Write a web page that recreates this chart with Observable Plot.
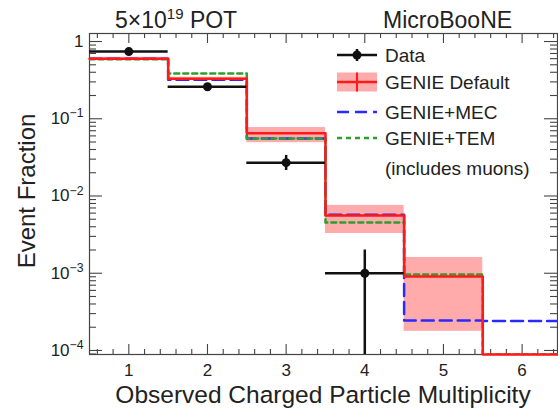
<!DOCTYPE html>
<html><head><meta charset="utf-8">
<script src="https://cdn.jsdelivr.net/npm/d3@7"></script>
<script src="https://cdn.jsdelivr.net/npm/@observablehq/plot@0.6"></script>
<style>body{margin:0;background:#fff}</style>
</head><body><div id="chart"></div>
<script>
// ---- data ----
const bins = [1, 2, 3, 4, 5, 6];
const dataBins = [1, 2, 3, 4];
const dataY = [0.74, 0.26, 0.027, 0.001];
const dataYLo = [0.71, 0.25, 0.0214, 0];
const dataYHi = [0.77, 0.27, 0.0335, 0.002];
const genieDefault = [0.60, 0.33, 0.065, 0.0056, 0.00091, 0];
const genieLo = [0.575, 0.315, 0.049, 0.00327, 0.000177, 0];
const genieHi = [0.625, 0.345, 0.077, 0.00755, 0.0016, 0];
const genieMEC = [0.60, 0.32, 0.0557, 0.0057, 0.000245, 0.00024];
const genieTEM = [0.59, 0.386, 0.0557, 0.00455, 0.00096, 0];
const xTicks = [1, 2, 3, 4, 5, 6];
const yTicks = [1, 0.1, 0.01, 0.001, 0.0001];
const yTickLabels = ["1", "10^-1", "10^-2", "10^-3", "10^-4"];
const legendLabels = ["Data", "GENIE Default", "GENIE+MEC", "GENIE+TEM", "(includes muons)"];

// ---- layout ----
const W = 558, H = 411;
const mL = 89, mR = 1, mT = 33, mB = 57;
const innerW = W - mL - mR, innerH = H - mT - mB;
const xMax = 6.45;
const yMin = 8.87e-5, yMax = 1.27;
const floorY = v => Math.max(v, yMin);
const font = "'Liberation Sans', Arial, Helvetica, sans-serif";
const axisColor = "#444";

function steps(vals) {
  const pts = bins.map((b, i) => ({x: b - 0.5, y: floorY(vals[i])}));
  pts.push({x: bins[bins.length - 1] + 0.5, y: floorY(vals[vals.length - 1])});
  return pts;
}
const band = bins.map((b, i) => ({x1: b - 0.5, x2: b + 0.5, lo: genieLo[i], hi: genieHi[i]})).filter(d => d.hi > 0);
const dataRows = dataBins.map((b, i) => ({x: b, y: dataY[i], lo: floorY(dataYLo[i]), hi: dataYHi[i]}));

const xMinor = d3.range(6, 65, 2).map(v => v / 10).filter(v => v % 1 !== 0);
const yMinor = [];
for (let e = -5; e <= 0; e++) for (let k = 2; k <= 9; k++) {
  const v = k * Math.pow(10, e);
  if (v > yMin && v < yMax) yMinor.push(v);
}

const tickStyle = {stroke: axisColor, strokeWidth: 1.1};
const chart = Plot.plot({
  width: W, height: H,
  marginLeft: mL, marginRight: mR, marginTop: mT, marginBottom: mB,
  style: {fontFamily: font, fontSize: "17px", color: "#222", background: "#fff"},
  x: {domain: [0.5, xMax]},
  y: {type: "log", domain: [yMin, yMax]},
  marks: [
    Plot.rect(band, {x1: "x1", x2: "x2", y1: "lo", y2: "hi", fill: "#ffabab", clip: true}),
    Plot.frame({stroke: axisColor, strokeWidth: 1.2}),
    // inward ticks (bottom/top)
    Plot.tickX(xTicks, {x: d => d, insetTop: innerH - 10, ...tickStyle}),
    Plot.tickX(xMinor, {x: d => d, insetTop: innerH - 5, ...tickStyle}),
    Plot.tickX(xTicks, {x: d => d, insetBottom: innerH - 10, ...tickStyle}),
    Plot.tickX(xMinor, {x: d => d, insetBottom: innerH - 5, ...tickStyle}),
    // inward ticks (left/right)
    Plot.tickY(yTicks, {y: d => d, insetRight: innerW - 13, ...tickStyle}),
    Plot.tickY(yMinor, {y: d => d, insetRight: innerW - 7, ...tickStyle}),
    Plot.tickY(yTicks, {y: d => d, insetLeft: innerW - 13, ...tickStyle}),
    Plot.tickY(yMinor, {y: d => d, insetLeft: innerW - 7, ...tickStyle}),
    Plot.line(steps(genieMEC), {x: "x", y: "y", curve: "step-after", stroke: "#2a2aff", strokeWidth: 2.5, strokeDasharray: "12,6", clip: true}),
    Plot.line(steps(genieTEM), {x: "x", y: "y", curve: "step-after", stroke: "#2ca02c", strokeWidth: 2.5, strokeDasharray: "5,4", clip: true}),
    Plot.line(steps(genieDefault), {x: "x", y: "y", curve: "step-after", stroke: "#ff1a1a", strokeWidth: 2.5}),
    Plot.ruleY(dataRows, {y: "y", x1: d => d.x - 0.5, x2: d => d.x + 0.5, stroke: "#111", strokeWidth: 2.5}),
    Plot.ruleX(dataRows, {x: "x", y1: "lo", y2: "hi", stroke: "#111", strokeWidth: 2.5}),
    Plot.dot(dataRows, {x: "x", y: "y", r: 4.5, fill: "#111"}),
    Plot.axisX({ticks: xTicks, tickSize: 0, tickPadding: 9, tickFormat: d => String(d), label: null, fontSize: 17}),
    Plot.axisY({ticks: yTicks, tickSize: 0, tickPadding: 6, tickFormat: d => yTickLabels[yTicks.indexOf(d)], label: null, fontSize: 17})
  ]
});
document.getElementById("chart").appendChild(chart);

const svg = d3.select(chart);
// superscripts on y tick labels
svg.selectAll('g[aria-label="y-axis tick label"] text').each(function () {
  const m = this.textContent.match(/^10\^(.+)$/);
  if (m) {
    const s = d3.select(this);
    s.text("10");
    s.append("tspan").attr("dy", "-0.55em").attr("font-size", "0.72em").text(m[1].replace("-", "\u2212"));
  }
});

function txt(x, y, size, anchor = "start") {
  return svg.append("text").attr("x", x).attr("y", y).attr("font-size", size)
    .attr("font-family", font).attr("fill", "#222").attr("text-anchor", anchor);
}
// titles
const t1 = txt(115, 28, 23);
t1.append("tspan").text("5\u00d710");
t1.append("tspan").attr("dy", -9).attr("font-size", 15).text("19");
t1.append("tspan").attr("dy", 9).text(" POT");
txt(383, 28, 23).text("MicroBooNE");
// axis titles
txt(323, 403, 24.5, "middle").text("Observed Charged Particle Multiplicity");
svg.append("text").attr("transform", "translate(35,191) rotate(-90)").attr("text-anchor", "middle")
  .attr("font-size", 24).attr("font-family", font).attr("fill", "#222").text("Event Fraction");

// legend
const lx0 = 337, lx1 = 377, lxc = 357, ltx = 385;
const rows = [55, 82, 112, 138, 168];
const lg = svg.append("g");
lg.append("line").attr("x1", lx0).attr("x2", lx1).attr("y1", rows[0]).attr("y2", rows[0]).attr("stroke", "#111").attr("stroke-width", 2.5);
lg.append("line").attr("x1", lxc).attr("x2", lxc).attr("y1", rows[0] - 6).attr("y2", rows[0] + 6).attr("stroke", "#111").attr("stroke-width", 2.5);
lg.append("circle").attr("cx", lxc).attr("cy", rows[0]).attr("r", 4.5).attr("fill", "#111");
lg.append("rect").attr("x", lx0).attr("y", rows[1] - 9.5).attr("width", lx1 - lx0).attr("height", 19).attr("fill", "#ffabab");
lg.append("line").attr("x1", lx0).attr("x2", lx1).attr("y1", rows[1]).attr("y2", rows[1]).attr("stroke", "#ff1a1a").attr("stroke-width", 2.5);
lg.append("line").attr("x1", lxc).attr("x2", lxc).attr("y1", rows[1] - 9.5).attr("y2", rows[1] + 9.5).attr("stroke", "#ff1a1a").attr("stroke-width", 2);
lg.append("line").attr("x1", lx0).attr("x2", lx1).attr("y1", rows[2]).attr("y2", rows[2]).attr("stroke", "#2a2aff").attr("stroke-width", 2.5).attr("stroke-dasharray", "12,6");
lg.append("line").attr("x1", lx0).attr("x2", lx1).attr("y1", rows[3]).attr("y2", rows[3]).attr("stroke", "#2ca02c").attr("stroke-width", 2.5).attr("stroke-dasharray", "5,4");
legendLabels.forEach((l, i) => {
  txt(ltx, rows[i], 19).attr("dominant-baseline", "central").text(l);
});
</script>
</body></html>
